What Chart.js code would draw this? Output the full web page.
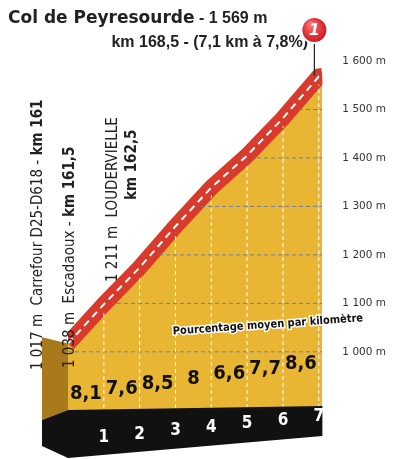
<!DOCTYPE html>
<html><head><meta charset="utf-8">
<script src="https://cdn.jsdelivr.net/npm/chart.js@4"></script>
<style>body{margin:0;background:#fff}#wrap{width:400px;height:459px}</style>
</head><body><div id="wrap"><canvas id="c"></canvas></div>
<script>
const km = [0, 1, 2, 3, 4, 5, 6, 7, 7.1];
const altitude = [1017, 1098, 1174, 1259, 1339, 1405, 1482, 1568, 1569];
const pct = ['8,1', '7,6', '8,5', '8', '6,6', '7,7', '8,6'];
const kmLabels = ['1', '2', '3', '4', '5', '6', '7'];
const altTicks = [1000, 1100, 1200, 1300, 1400, 1500, 1600];

const pts = km.map((k, i) => ({x: k, y: altitude[i]}));

// extra drawing: grid inside profile, km band, labels, title
const profile = {
  id: 'profile',
  beforeDatasetsDraw(chart) {
    const {ctx, chartArea: a, scales: {x, y}} = chart;
    // left side face
    ctx.save();
    ctx.fillStyle = '#a87a1c';
    ctx.beginPath();
    ctx.moveTo(a.left - 26, y.getPixelForValue(1030));
    ctx.lineTo(a.left, y.getPixelForValue(1017));
    ctx.lineTo(a.left, a.bottom);
    ctx.lineTo(a.left - 26, a.bottom + 10);
    ctx.closePath(); ctx.fill();
    ctx.restore();
  },
  afterDatasetsDraw(chart) {
    const {ctx, chartArea: a, scales: {x, y}} = chart;
    ctx.save();
    // clip to the area under the profile
    ctx.beginPath();
    ctx.moveTo(x.getPixelForValue(0), a.bottom);
    pts.forEach(p => ctx.lineTo(x.getPixelForValue(p.x), y.getPixelForValue(p.y) + 8));
    ctx.lineTo(x.getPixelForValue(7.1), a.bottom);
    ctx.closePath(); ctx.clip();
    ctx.setLineDash([4, 3]);
    ctx.strokeStyle = '#6a7fa8'; ctx.lineWidth = 1;
    altTicks.forEach(v => {
      const py = y.getPixelForValue(v);
      ctx.beginPath(); ctx.moveTo(a.left, py); ctx.lineTo(a.right, py); ctx.stroke();
    });
    ctx.strokeStyle = '#fff';
    for (let k = 1; k <= 7; k++) {
      const px = x.getPixelForValue(k);
      ctx.beginPath(); ctx.moveTo(px, a.top); ctx.lineTo(px, a.bottom); ctx.stroke();
    }
    ctx.restore();

    ctx.save();
    // black km band
    const x0 = x.getPixelForValue(0), x7 = x.getPixelForValue(7.1);
    ctx.fillStyle = '#111';
    ctx.beginPath();
    ctx.moveTo(x0 - 26, a.bottom + 10); ctx.lineTo(x0, a.bottom);
    ctx.lineTo(x7, a.bottom - 4); ctx.lineTo(x7, a.bottom + 26);
    ctx.lineTo(x0, a.bottom + 48); ctx.lineTo(x0 - 26, a.bottom + 36);
    ctx.closePath(); ctx.fill();
    ctx.fillStyle = '#fff';
    ctx.font = 'bold 17px "Liberation Sans Narrow", "DejaVu Sans Condensed", sans-serif';
    ctx.textAlign = 'center'; ctx.textBaseline = 'middle';
    kmLabels.forEach((t, i) => {
      const px = x.getPixelForValue(i + 1);
      ctx.fillText(t, px, a.bottom + 28 - i * 3.5);
    });
    // percentages
    ctx.fillStyle = '#111';
    ctx.font = 'bold 20px "Liberation Sans Narrow", "DejaVu Sans Condensed", sans-serif';
    pct.forEach((t, i) => {
      const px = x.getPixelForValue(i + 0.5);
      ctx.fillText(t, px, a.bottom - 16 - i * 5);
    });
    // caption
    ctx.save();
    ctx.translate(268, 325); ctx.rotate(-0.07);
    ctx.textAlign = 'center';
    ctx.font = 'bold 11px "Liberation Sans Narrow", "DejaVu Sans Condensed", sans-serif';
    ctx.lineWidth = 3; ctx.strokeStyle = '#fff'; ctx.fillStyle = '#111';
    ctx.strokeText('Pourcentage moyen par kilomètre', 0, 0);
    ctx.fillText('Pourcentage moyen par kilomètre', 0, 0);
    ctx.restore();

    // vertical place labels
    const vtext = (px, py, parts) => {
      ctx.save(); ctx.translate(px, py); ctx.rotate(-Math.PI / 2);
      ctx.textAlign = 'left'; ctx.textBaseline = 'middle'; ctx.fillStyle = '#222';
      let off = 0;
      parts.forEach(([t, bold]) => {
        ctx.font = (bold ? 'bold ' : '') + '15px "Liberation Sans Narrow", "DejaVu Sans Condensed", sans-serif';
        ctx.fillText(t, off, 0); off += ctx.measureText(t).width;
      });
      ctx.restore();
    };
    vtext(38, 370, [['1 017 m  Carrefour D25-D618 - ', false], ['km 161', true]]);
    vtext(70, 368, [['1 038 m  Escadaoux - ', false], ['km 161,5', true]]);
    vtext(113, 282, [['1 211 m  LOUDERVIELLE', false]]);
    vtext(132, 200, [['km 162,5', true]]);

    // title
    ctx.textBaseline = 'alphabetic';
    ctx.textAlign = 'left'; ctx.fillStyle = '#222';
    ctx.font = '900 17px "DejaVu Sans", sans-serif';
    ctx.fillText('Col de Peyresourde', 8, 23);
    const w = ctx.measureText('Col de Peyresourde').width;
    ctx.font = 'bold 16px "Liberation Sans", sans-serif';
    ctx.fillText(' - 1 569 m', 8 + w, 23);
    ctx.textAlign = 'right';
    ctx.fillText('km 168,5 - (7,1 km à 7,8%)', 308, 47);

    // summit marker
    const sx = x.getPixelForValue(7.1) - 8, sy = y.getPixelForValue(1569);
    ctx.strokeStyle = '#222'; ctx.lineWidth = 1.2;
    ctx.beginPath(); ctx.moveTo(sx, 40); ctx.lineTo(sx, sy); ctx.stroke();
    const g = ctx.createRadialGradient(sx - 4, 24, 2, sx, 30, 14);
    g.addColorStop(0, '#ff6b6b'); g.addColorStop(1, '#c8101a');
    ctx.fillStyle = g;
    ctx.beginPath(); ctx.arc(sx, 30, 13, 0, Math.PI * 2); ctx.fill();
    ctx.strokeStyle = '#fff'; ctx.lineWidth = 2; ctx.stroke();
    ctx.fillStyle = '#fff'; ctx.textAlign = 'center'; ctx.textBaseline = 'middle';
    ctx.font = 'italic bold 16px "DejaVu Sans", sans-serif';
    ctx.fillText('1', sx, 31);
    ctx.restore();
  }
};

new Chart(document.getElementById('c'), {
  type: 'line',
  data: {
    datasets: [{
      data: pts,
      borderColor: '#d83a2c',
      borderWidth: 16,
      backgroundColor: '#e9b634',
      fill: 'origin',
      pointRadius: 0,
      tension: 0,
      order: 2
    }, {
      data: pts,
      borderColor: '#fff',
      borderWidth: 2,
      borderDash: [7, 5],
      fill: false,
      pointRadius: 0,
      tension: 0,
      order: 1
    }]
  },
  options: {
    responsive: true,
    maintainAspectRatio: false,
    animation: false,
    layout: {padding: {left: 68, top: 61, bottom: 49, right: 2}},
    plugins: {legend: {display: false}, tooltip: {enabled: false}},
    scales: {
      x: {type: 'linear', min: 0, max: 7.1, display: false},
      y: {
        position: 'right', min: 880, max: 1600,
        afterBuildTicks: s => { s.ticks = altTicks.map(v => ({value: v})); },
        grid: {display: false},
        border: {display: false},
        ticks: {
          color: '#333', padding: 12,
          font: {size: 10.5, family: '"DejaVu Sans", sans-serif'},
          callback: v => v.toLocaleString('fr-FR').replace(/\u202f|\u00a0/g, ' ') + ' m'
        }
      }
    }
  },
  plugins: [profile]
});
</script>
</body></html>
